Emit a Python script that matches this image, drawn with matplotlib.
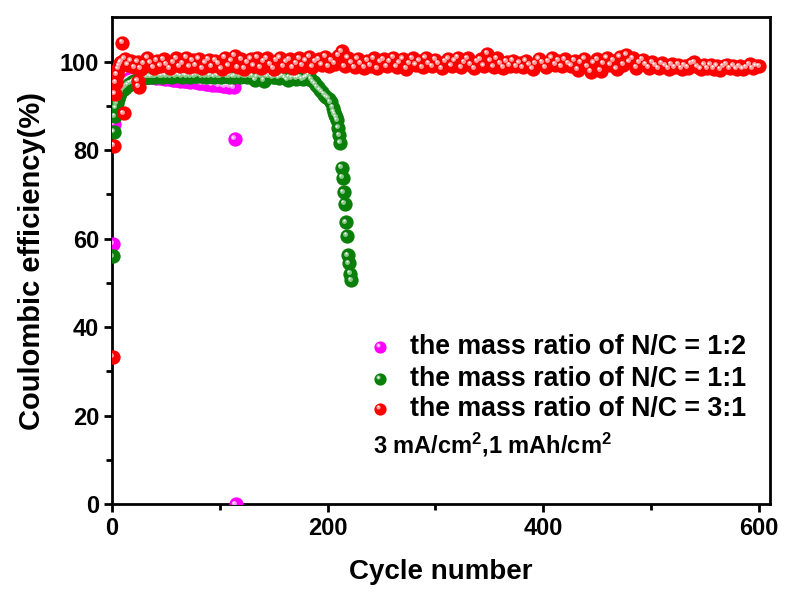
import numpy as np
import matplotlib
matplotlib.use("Agg")
import matplotlib.pyplot as plt
from matplotlib.transforms import ScaledTranslation

plt.rcParams['font.family'] = ['Liberation Sans', 'DejaVu Sans']
plt.rcParams['font.weight'] = 'bold'
plt.rcParams['mathtext.fontset'] = 'custom'
plt.rcParams['mathtext.rm'] = 'Liberation Sans:bold'
plt.rcParams['mathtext.bf'] = 'Liberation Sans:bold'
plt.rcParams['mathtext.it'] = 'Liberation Sans:bold'

labels = ['the mass ratio of N/C = 1:2',
          'the mass ratio of N/C = 1:1',
          'the mass ratio of N/C = 3:1']
colors = ['#ff00ff', '#0a800a', '#ff0000']
lights = ['#ff9cff', '#8cc88c', '#ff9c9c']

# N/C = 1:2
mag_cyc = [1, 2, 3, 4, 5, 6, 7, 8, 9] + list(range(11, 114, 2)) + [114, 115]
mag_ce = [58.8, 86.0, 89.0, 90.5, 91.8, 92.8, 93.5, 94.2, 94.8,
          95.3, 95.7, 96.0, 96.2, 96.4, 96.5, 96.6, 96.6, 96.7, 96.6,
          96.7, 96.5, 96.6, 96.4, 96.5, 96.3, 96.4, 96.2, 96.3, 96.1,
          96.2, 96.0, 96.1, 95.9, 95.8, 95.9, 95.7, 95.8, 95.6, 95.5,
          95.6, 95.4, 95.5, 95.3, 95.4, 95.2, 95.1, 95.3, 95.0, 94.9,
          95.1, 94.8, 94.9, 94.7, 94.6, 94.8, 94.5, 94.4, 94.6, 94.3,
          94.5, 94.2,
          82.5, 0.0]

# N/C = 1:1
grn_cyc = ([1, 2, 3, 4, 5, 6, 7, 8, 9] + list(range(11, 160, 2))
           + [161, 163, 165, 167, 169, 171, 173, 175, 177, 179, 181, 183, 185,
              187, 189, 191, 193, 195, 197, 199, 201, 203, 205, 206, 207, 208,
              209, 210, 211, 212, 213, 214, 215, 216, 217, 218, 219, 220, 221, 222])
grn_ce = [56.0, 84.1, 87.6, 89.5, 90.6, 91.5, 92.2, 92.8, 93.3,
          93.8, 94.3, 94.7, 95.0, 95.3, 95.6, 95.8, 96.0, 96.1, 96.3,
          96.4, 96.5, 96.6, 96.5, 96.7, 96.6, 96.8, 96.7, 96.6, 96.8,
          96.7, 96.9, 96.6, 96.8, 96.7, 96.9, 96.8, 96.6, 96.9, 96.7,
          96.8, 96.6, 96.9, 96.7, 96.8, 97.0, 96.7, 96.8, 96.6, 96.9,
          96.7, 96.8, 96.5, 96.9, 96.7, 96.6, 96.8, 96.9, 96.7, 96.6,
          96.8, 96.5, 96.7, 96.9, 96.6, 96.8, 96.7, 96.5, 96.8, 96.6,
          96.7, 95.8, 96.5, 96.8, 96.6, 95.7, 96.7, 96.5, 96.8, 96.4,
          96.6, 96.7, 96.3, 96.5, 96.6,
          96.3, 95.8, 96.4, 96.2, 96.5, 96.1, 96.3, 96.4, 96.0, 96.2, 96.5, 96.8, 95.9,
          95.3, 94.8, 94.2, 93.6, 93.1, 92.5, 92.0, 91.6, 90.8, 89.6, 88.6, 88.0, 87.4,
          86.7, 85.0, 83.3, 81.6, 76.0, 73.8, 70.5, 67.9, 63.7, 60.7, 56.2, 54.4, 52.1, 50.6]

# N/C = 3:1
red_cyc = [1, 2, 3, 4, 5, 6, 7, 8, 9, 10, 11, 24, 25] + list(range(12, 601, 3))
red_ce = [33.3, 81.0, 92.7, 95.2, 97.0, 98.3, 99.0, 99.6, 99.9, 104.3, 88.3, 95.6, 94.3,
          100.6, 99.2, 100.1, 98.7, 99.9, 98.4, 99.5, 100.8, 99.7, 98.6, 100.2, 99.0, 100.5, 99.4, 98.5, 99.8, 100.7, 98.9, 99.6, 100.9,
          98.8, 100.3, 99.1, 100.6, 98.5, 99.7, 100.4, 98.9, 100.2, 99.5, 98.3, 100.9, 99.0, 100.1, 101.3, 98.7, 100.5, 98.4, 99.8, 100.6,
          99.0, 100.9, 98.6, 100.0, 100.7, 99.3, 98.4, 100.2, 100.8, 98.9, 99.9, 100.5, 98.6, 99.6, 100.7, 99.1, 100.1, 101.0, 98.8, 100.0,
          100.5, 99.2, 101.1, 98.9, 100.3, 99.5, 101.3, 102.3, 98.9, 100.8, 99.7, 98.7, 100.6, 99.6, 98.6, 100.2, 99.1, 100.7, 98.5, 99.9,
          100.5, 98.9, 100.0, 100.9, 98.8, 99.7, 100.6, 98.4, 99.5, 100.7, 99.2, 100.1, 98.7, 100.8, 99.6, 98.9, 100.4, 99.5, 98.5, 100.0,
          100.6, 99.0, 100.1, 100.9, 98.7, 99.8, 100.7, 99.3, 98.5, 100.0, 100.5, 99.0, 101.8, 100.1, 98.8, 100.7, 99.5, 98.6, 100.0, 99.1,
          100.2, 98.9, 99.7, 98.7, 100.1, 99.2, 98.3, 99.5, 100.6, 99.8, 98.7, 100.0, 100.8, 99.3, 100.2, 98.9, 100.5, 99.6, 99.0, 100.2,
          98.2, 99.8, 100.6, 98.9, 97.7, 99.7, 100.5, 97.9, 99.5, 100.8, 99.2, 100.2, 98.3, 101.0, 99.3, 101.5, 99.9, 100.7, 98.6, 99.8,
          100.4, 99.3, 98.6, 99.8, 99.1, 98.5, 99.6, 99.0, 98.4, 99.4, 98.7, 99.3, 98.4, 99.1, 98.6, 99.5, 99.8, 98.8, 98.3, 99.2,
          98.5, 99.2, 98.4, 99.0, 98.2, 98.9, 99.3, 98.5, 99.0, 98.3, 98.9, 98.3, 98.7, 99.4, 98.5, 99.0, 98.9]

fig = plt.figure(figsize=(7.85, 5.94), dpi=100)
ax = fig.add_axes([0.1423, 0.151, 0.8386, 0.8199])

off1 = ScaledTranslation(-1.2 / 72, 1.2 / 72, fig.dpi_scale_trans)
off2 = ScaledTranslation(-1.7 / 72, 1.7 / 72, fig.dpi_scale_trans)


def balls(x, y, color, light, ms, z, trans=None, clip=True):
    if trans is None:
        trans = ax.transData
    ax.plot(x, y, 'o', ms=ms, mfc=color, mec='none', zorder=z,
            transform=trans, clip_on=clip)
    ax.plot(x, y, 'o', ms=ms * 0.34, mfc=light, mec='none', zorder=z,
            transform=trans + off1, clip_on=clip)
    ax.plot(x, y, 'o', ms=ms * 0.14, mfc='white', mec='none', zorder=z,
            transform=trans + off2, clip_on=clip)


series = [(mag_cyc, mag_ce), (grn_cyc, grn_ce), (red_cyc, red_ce)]
for i, (cx, cy) in enumerate(series):
    balls(cx, cy, colors[i], lights[i], 10.3, 3 + i)

# legend drawn by hand so the markers keep the shaded look
leg_y = [0.323, 0.257, 0.196]
for i in range(3):
    balls([0.4076], [leg_y[i]], colors[i], lights[i], 8.8, 10,
          trans=ax.transAxes, clip=False)
    ax.text(0.453, leg_y[i], labels[i], transform=ax.transAxes,
            fontsize=19.3, fontweight='bold', va='center', ha='left')
ax.text(0.397, 0.122, r'3 mA/cm$^{2}$,1 mAh/cm$^{2}$', transform=ax.transAxes,
        fontsize=17, fontweight='bold', va='center', ha='left')

ax.set_xlim(0, 610)
ax.set_ylim(0, 110)
ax.set_xticks([0, 200, 400, 600])
ax.set_xticks([100, 300, 500], minor=True)
ax.set_yticks([0, 20, 40, 60, 80, 100])
ax.set_yticks([10, 30, 50, 70, 90], minor=True)
for s in ax.spines.values():
    s.set_linewidth(2)
ax.tick_params(which='major', direction='out', length=6, width=2,
               labelsize=17, pad=3)
ax.tick_params(which='minor', direction='out', length=4, width=2)
for lab in ax.get_xticklabels() + ax.get_yticklabels():
    lab.set_fontweight('bold')

ax.set_xlabel('Cycle number', fontsize=20, fontweight='bold', labelpad=14)
ax.set_ylabel('Coulombic efficiency(%)', fontsize=21, fontweight='bold', labelpad=10)

fig.savefig('out.png', dpi=100)
